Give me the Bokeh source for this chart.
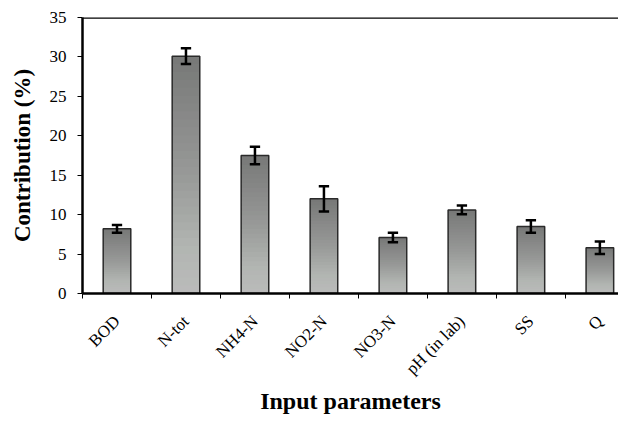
import numpy as np
from bokeh.plotting import figure
from bokeh.models import ColumnDataSource, Range1d, FixedTicker, Span
from bokeh.embed import file_html
from bokeh.resources import INLINE

categories = ["BOD", "N-tot", "NH4-N", "NO2-N", "NO3-N", "pH (in lab)", "SS", "Q"]
contribution = [8.2, 30.1, 17.5, 12.0, 7.1, 10.6, 8.5, 5.8]
error = [0.5, 1.0, 1.1, 1.6, 0.6, 0.55, 0.8, 0.8]
y_ticks = [0, 5, 10, 15, 20, 25, 30, 35]

FONT = "Liberation Serif"
BAR_W = 0.4
CAP_W = 0.15

x = list(range(len(categories)))
p = figure(width=618, height=416, output_backend="svg", toolbar_location=None,
           x_range=Range1d(-0.5, 7.27), y_range=Range1d(0, 35),
           min_border_left=82, min_border_right=0, min_border_top=17,
           min_border_bottom=100, background_fill_color="white",
           border_fill_color="white", outline_line_color=None)
p.xgrid.visible = False
p.ygrid.visible = False

# gradient bars: slices of each bar, dark at top to light at bottom
stops_pos = [0.0, 0.5, 0.8, 1.0]  # fraction from top
stops_col = [(0x77, 0x78, 0x77), (0x98, 0x99, 0x98), (0xb1, 0xb5, 0xb1), (0xbb, 0xbb, 0xbb)]
N = 30
xs, bots, tops, cols = [], [], [], []
for xi, v in zip(x, contribution):
    for k in range(N):
        b = v * k / N
        t = min(v, v * (k + 1.6) / N)
        frac_top = 1 - (k + 0.5) / N
        rgb = [int(round(np.interp(frac_top, stops_pos, [c[j] for c in stops_col]))) for j in range(3)]
        xs.append(xi)
        bots.append(b)
        tops.append(t)
        cols.append("#%02x%02x%02x" % tuple(rgb))
p.vbar(x=xs, bottom=bots, top=tops, width=BAR_W, fill_color=cols, line_color=None)

lower = [v - e for v, e in zip(contribution, error)]
upper = [v + e for v, e in zip(contribution, error)]
src = ColumnDataSource(dict(x=x, top=contribution, lower=lower, upper=upper,
                            xl=[xi - CAP_W / 2 for xi in x],
                            xr=[xi + CAP_W / 2 for xi in x]))
p.vbar(x="x", top="top", bottom=0, width=BAR_W, source=src, fill_alpha=0,
       line_color="#2a2a2a", line_width=1.5)

# error bars
p.segment(x0="x", x1="x", y0="lower", y1="upper", source=src,
          line_color="black", line_width=2.5)
p.segment(x0="xl", x1="xr", y0="upper", y1="upper", source=src,
          line_color="black", line_width=2.5)
p.segment(x0="xl", x1="xr", y0="lower", y1="lower", source=src,
          line_color="black", line_width=2.5)

# top border line
p.add_layout(Span(location=35, dimension="width", line_color="black", line_width=2.5))

# x axis
xa = p.xaxis[0]
xa.ticker = FixedTicker(ticks=x, minor_ticks=[i - 0.5 for i in range(len(categories) + 1)])
xa.major_label_overrides = {i: c for i, c in enumerate(categories)}
xa.major_tick_out = 0
xa.major_tick_in = 0
xa.minor_tick_out = 5
xa.minor_tick_in = 0
xa.minor_tick_line_color = "black"
xa.axis_line_width = 2.5
xa.axis_line_color = "black"
xa.major_label_orientation = np.pi / 4
xa.major_label_text_font = FONT
xa.major_label_text_font_size = "17px"
xa.major_label_text_color = "black"
xa.major_label_standoff = 20
xa.axis_label = "Input parameters"
xa.axis_label_text_font = FONT
xa.axis_label_text_font_size = "24px"
xa.axis_label_text_font_style = "bold"
xa.axis_label_text_color = "black"
xa.axis_label_standoff = 0

# y axis
ya = p.yaxis[0]
ya.ticker = FixedTicker(ticks=y_ticks)
ya.minor_tick_line_color = None
ya.major_tick_out = 5
ya.major_tick_in = 0
ya.axis_line_width = 2.5
ya.axis_line_color = "black"
ya.major_label_text_font = FONT
ya.major_label_text_font_size = "17px"
ya.major_label_text_color = "black"
ya.major_label_standoff = 11
ya.axis_label = "Contribution (%)"
ya.axis_label_text_font = FONT
ya.axis_label_text_font_size = "23px"
ya.axis_label_text_font_style = "bold"
ya.axis_label_text_color = "black"
ya.axis_label_standoff = 12

open("out.html", "w").write(file_html(p, INLINE))
